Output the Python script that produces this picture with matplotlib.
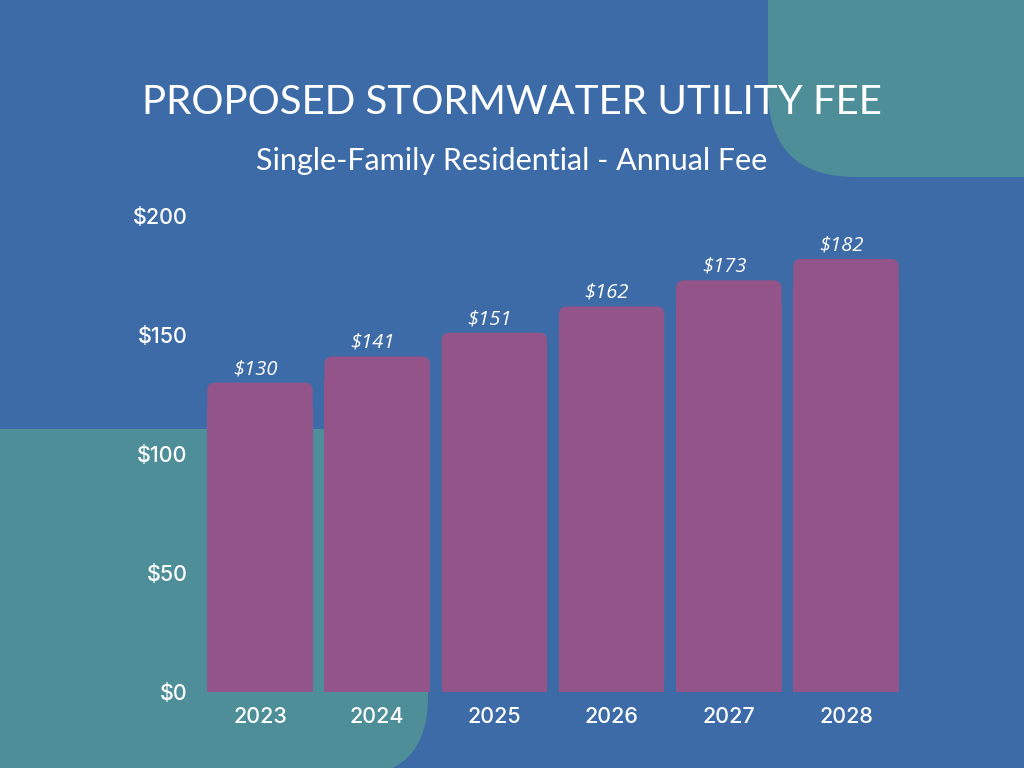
import matplotlib
matplotlib.use("Agg")
from matplotlib import pyplot as plt
from matplotlib.patches import FancyBboxPatch, Rectangle
import numpy as np

years = ["2023", "2024", "2025", "2026", "2027", "2028"]
fees = [130, 141, 151, 162, 173, 182]
yticks = [0, 50, 100, 150, 200]
title = "PROPOSED STORMWATER UTILITY FEE"
subtitle = "Single-Family Residential - Annual Fee"

blue = "#3c6ba7"
teal = "#4e8e98"
purple = "#925489"

fig = plt.figure(figsize=(10.24, 7.68), dpi=100)
fig.patch.set_facecolor(blue)

# background decorations, drawn in pixel units
bg = fig.add_axes([0, 0, 1, 1], zorder=0)
bg.set_xlim(0, 1024)
bg.set_ylim(768, 0)
bg.axis("off")
bg.add_patch(FancyBboxPatch((768, -200), 500, 377, boxstyle="round,pad=0,rounding_size=88",
                            facecolor=teal, edgecolor="none"))
bg.add_patch(FancyBboxPatch((-200, 429), 628, 348, boxstyle="round,pad=0,rounding_size=80",
                            facecolor=teal, edgecolor="none"))
bg.add_patch(Rectangle((0, 429), 428, 150, facecolor=teal, edgecolor="none"))

# titles
fig.text(0.5, 1 - 114 / 768, title, ha="center", va="baseline", color="white",
         fontsize=29, family="Lato")
fig.text(0.5, 1 - 170 / 768, subtitle, ha="center", va="baseline", color="white",
         fontsize=22, family="Lato")

ax = fig.add_axes([201.35 / 1024, 1 - 692 / 768, 703.3 / 1024, 476 / 768], zorder=1)
ax.set_facecolor("none")
x = np.arange(len(years))
w = 0.9
ax.set_xlim(-0.5, len(years) - 0.5)
ax.set_ylim(0, 200)

# rounded-top bars: rounded box plus square bottom part
sx = 703.3 / 6.0   # pixels per x unit
sy = 476 / 200.0   # pixels per y unit
for xi, v in zip(x, fees):
    ax.add_patch(FancyBboxPatch((xi - w / 2, 0), w, v,
                                boxstyle="round,pad=0,rounding_size=%f" % (8 / sx),
                                mutation_aspect=sx / sy,
                                facecolor=purple, edgecolor="none"))
ax.bar(x, [v - 10 for v in fees], width=w, color=purple, edgecolor="none")

for xi, v in zip(x, fees):
    ax.text(xi - 0.04, v + 1.5, "$%d" % v, ha="center", va="bottom", color="white",
            fontsize=14.5, family="Open Sans", style="italic")

ax.set_xticks(x)
ax.set_xticklabels(years)
ax.set_yticks(yticks)
ax.set_yticklabels(["$%d" % t for t in yticks])
for lab in ax.get_xticklabels() + ax.get_yticklabels():
    lab.set_family("Inter")
    lab.set_fontweight("medium")
    lab.set_fontsize(15.5)
    lab.set_color("white")
ax.tick_params(axis="x", length=0, pad=11)
ax.tick_params(axis="y", length=0, pad=10)
for s in ax.spines.values():
    s.set_visible(False)

fig.savefig("out.png", dpi=100, facecolor=fig.get_facecolor())
